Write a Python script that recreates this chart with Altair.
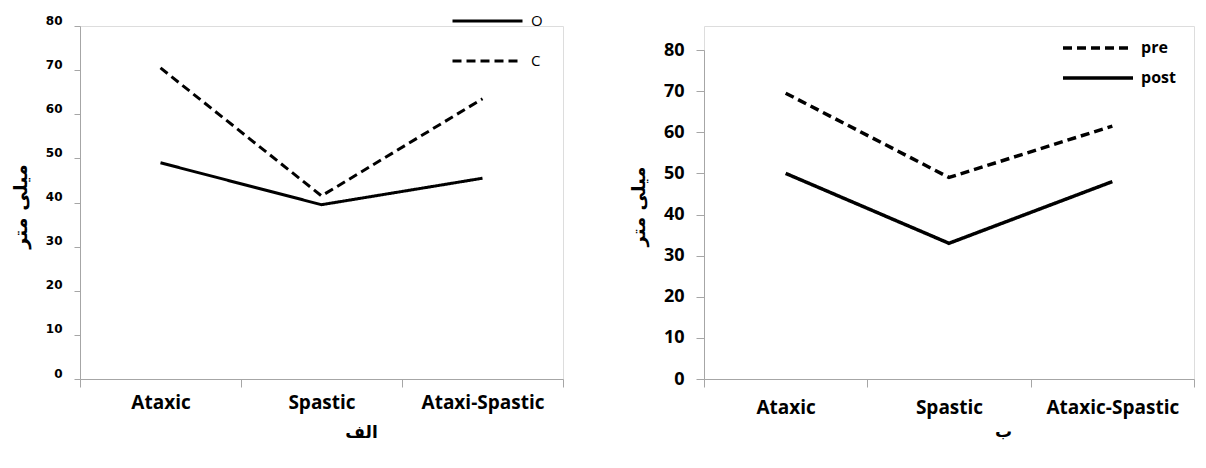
import altair as alt
import pandas as pd

# ---- data (panel الف) ----
categories_a = ["Ataxic", "Spastic", "Ataxi-Spastic"]
series_a = ["O", "C"]
o_values = [49, 39.5, 45.5]
c_values = [70.5, 41.5, 63.5]

# ---- data (panel ب) ----
categories_b = ["Ataxic", "Spastic", "Ataxic-Spastic"]
series_b = ["pre", "post"]
pre_values = [69.5, 49, 61.5]
post_values = [50, 33, 48]

y_ticks = [0, 10, 20, 30, 40, 50, 60, 70, 80]

df_a = pd.DataFrame(
    [{"cat": c, "series": "O", "value": v} for c, v in zip(categories_a, o_values)]
    + [{"cat": c, "series": "C", "value": v} for c, v in zip(categories_a, c_values)]
)
df_b = pd.DataFrame(
    [{"cat": c, "series": "pre", "value": v} for c, v in zip(categories_b, pre_values)]
    + [{"cat": c, "series": "post", "value": v} for c, v in zip(categories_b, post_values)]
)

AXIS_GRAY = "#a6a6a6"
SOLID = [1, 0]
DASH = [9, 5]
H = 353

chart_a = alt.Chart(df_a).mark_line(color="black", strokeWidth=3).encode(
    x=alt.X(
        "cat:N", sort=categories_a, bandPosition=0.5,
        scale=alt.Scale(type="band", paddingInner=0, paddingOuter=0),
        axis=alt.Axis(
            title="الف", labelAngle=0, tickBand="extent", domainColor=AXIS_GRAY,
            tickColor=AXIS_GRAY, tickSize=8, labelFont="Open Sans", labelFontSize=19,
            labelFontWeight="bold", labelColor="black", labelPadding=6,
            titleFont="DejaVu Sans", titleFontSize=17, titleFontWeight="bold",
            titleColor="black", titleX=281, titlePadding=12,
            grid=False,
        ),
    ),
    y=alt.Y(
        "value:Q",
        scale=alt.Scale(domain=[0, 80], nice=False),
        axis=alt.Axis(
            title="میلی متر", values=y_ticks, domainColor=AXIS_GRAY, tickColor=AXIS_GRAY,
            tickSize=6, labelFont="DejaVu Sans", labelFontSize=12, labelFontWeight="bold",
            labelColor="black", labelPadding=12, labelOffset=-6,
            titleFont="DejaVu Sans", titleFontSize=19, titleFontWeight="bold",
            titleColor="black", titleX=-60, titleY=180, titleBaseline="middle",
            titleAngle=270, grid=False,
        ),
    ),
    strokeDash=alt.StrokeDash(
        "series:N",
        scale=alt.Scale(domain=series_a, range=[SOLID, DASH]),
        legend=alt.Legend(
            title=None, orient="none", legendX=371, legendY=-15, symbolType="stroke",
            symbolSize=4900, symbolStrokeWidth=3, symbolStrokeColor="black",
            clipHeight=20, rowPadding=20, padding=0, labelFont="Open Sans",
            labelFontSize=15, labelColor="black", labelOffset=7,
        ),
    ),
).properties(width=483, height=H)

chart_b = alt.Chart(df_b).mark_line(color="black", strokeWidth=3.5).encode(
    x=alt.X(
        "cat:N", sort=categories_b, bandPosition=0.5,
        scale=alt.Scale(type="band", paddingInner=0, paddingOuter=0),
        axis=alt.Axis(
            title="ب", labelAngle=0, tickBand="extent", domainColor=AXIS_GRAY,
            tickColor=AXIS_GRAY, tickSize=8, labelFont="Open Sans", labelFontSize=19,
            labelFontWeight="bold", labelColor="black", labelPadding=11,
            titleFont="DejaVu Sans", titleFontSize=17, titleFontWeight="bold",
            titleColor="black", titleX=299, titlePadding=6,
            grid=False,
        ),
    ),
    y=alt.Y(
        "value:Q",
        scale=alt.Scale(domain=[0, 80], nice=False, range=[H, H - 329]),
        axis=alt.Axis(
            title="میلی متر", values=y_ticks, domainColor=AXIS_GRAY, tickColor=AXIS_GRAY,
            tickSize=8, labelFont="Open Sans", labelFontSize=18, labelFontWeight="bold",
            labelColor="black", labelPadding=12,
            titleFont="DejaVu Sans", titleFontSize=18, titleFontWeight="bold",
            titleColor="black", titleX=-65, titleY=180, titleBaseline="middle",
            titleAngle=270, grid=False,
        ),
    ),
    strokeDash=alt.StrokeDash(
        "series:N",
        scale=alt.Scale(domain=series_b, range=[DASH, SOLID]),
        legend=alt.Legend(
            title=None, orient="none", legendX=357, legendY=12, symbolType="stroke",
            symbolSize=4900, symbolStrokeWidth=3.5, symbolStrokeColor="black",
            clipHeight=20, rowPadding=10, padding=0, labelFont="Open Sans",
            labelFontSize=16, labelFontWeight="bold", labelColor="black", labelOffset=6,
        ),
    ),
).properties(width=490, height=H)

chart = (
    alt.hconcat(chart_a, chart_b, spacing=65)
    .resolve_scale(strokeDash="independent", x="independent", y="independent")
    .properties(padding={"left": 2, "top": 2, "right": 0, "bottom": 0})
    .configure_view(stroke=None)
    .configure(background="white")
)

chart.save("out.html", embed_options={"renderer": "svg", "actions": False})
